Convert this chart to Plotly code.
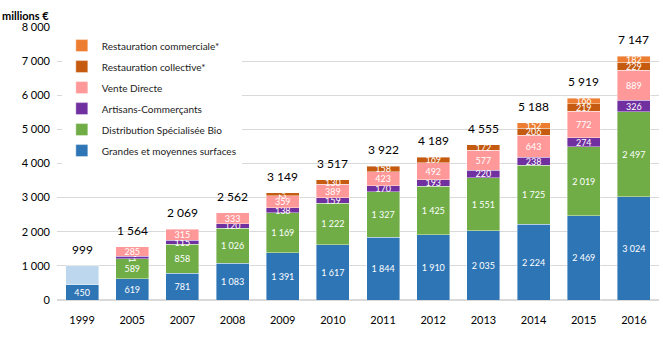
import plotly.graph_objects as go

years = ["1999", "2005", "2007", "2008", "2009", "2010", "2011", "2012", "2013", "2014", "2015", "2016"]
gms = [450, 619, 781, 1083, 1391, 1617, 1844, 1910, 2035, 2224, 2469, 3024]
dsb = [None, 589, 858, 1026, 1169, 1222, 1327, 1425, 1551, 1725, 2019, 2497]
artisans = [None, 71, 115, 120, 138, 159, 170, 193, 220, 238, 274, 326]
vente_directe = [None, 285, 315, 333, 359, 389, 423, 492, 577, 643, 772, 889]
resto_collective = [None, None, None, None, 92, 130, 158, 169, 172, 206, 219, 229]
resto_commerciale = [None, None, None, None, None, None, None, None, None, 152, 166, 182]
autres_1999 = [549, None, None, None, None, None, None, None, None, None, None, None]
totals = [999, 1564, 2069, 2562, 3149, 3517, 3922, 4189, 4555, 5188, 5919, 7147]
y_ticks = [0, 1000, 2000, 3000, 4000, 5000, 6000, 7000, 8000]

def fmt(v):
    return "" if v is None else f"{v:,}".replace(",", " ")

FONT = "Lato"
series = [
    ("Grandes et moyennes surfaces", gms, "#2E75B6"),
    ("Distribution Spécialisée Bio", dsb, "#70AD47"),
    ("Artisans-Commerçants", artisans, "#7030A0"),
    ("Vente Directe", vente_directe, "#FF9999"),
    ("Restauration collective*", resto_collective, "#C55A11"),
    ("Restauration commerciale*", resto_commerciale, "#ED7D31"),
]

fig = go.Figure()
for i, (name, vals, col) in enumerate(series):
    fig.add_trace(go.Bar(
        x=years, y=vals, name=name, marker=dict(color=col, line=dict(color="rgba(255,255,255,0.5)", width=0.8)),
        text=[fmt(v) for v in vals], textposition="inside", insidetextanchor="middle",
        textfont=dict(color="white", size=9, family=FONT), constraintext="none",
        legendgroup=f"g{i}", legendrank=100 - i, hoverinfo="skip",
    ))
    if i == 0:
        fig.add_trace(go.Bar(
            x=years, y=autres_1999, name="autres", showlegend=False,
            marker=dict(color="#BDD7EE", line=dict(color="rgba(255,255,255,0.5)", width=0.8)),
            hoverinfo="skip",
        ))

annotations = [dict(
    x=idx, y=tot, xref="x", yref="y", text=fmt(tot), showarrow=False,
    yanchor="bottom", yshift=7, font=dict(size=12, family=FONT, color="black"),
) for idx, tot in enumerate(totals)]
annotations.append(dict(
    text="<b>millions €</b>", xref="paper", yref="paper", x=-0.094, y=1.01,
    xanchor="left", yanchor="bottom", showarrow=False, font=dict(size=11, family=FONT),
))

fig.update_layout(
    width=663, height=337,
    margin=dict(l=57, r=4, t=27, b=37),
    barmode="stack", bargap=0.34,
    plot_bgcolor="white", paper_bgcolor="white",
    uniformtext=dict(minsize=9, mode="show"),
    font=dict(family=FONT, color="black"),
    legend=dict(
        x=0.008, y=0.985, xanchor="left", yanchor="top",
        bgcolor="white", traceorder="grouped", tracegroupgap=2,
        itemwidth=30, font=dict(size=10, family=FONT, color="#222"),
    ),
    xaxis=dict(type="category", categoryorder="array", categoryarray=years,
               tickfont=dict(size=11), showline=False, ticks="", ticklabelstandoff=12),
    yaxis=dict(
        range=[0, 8000], tickvals=y_ticks, ticktext=[fmt(v) for v in y_ticks],
        gridcolor="#D9D9D9", gridwidth=1, zeroline=True, zerolinecolor="#D9D9D9", zerolinewidth=2,
        tickfont=dict(size=11), ticklabelstandoff=6,
    ),
    annotations=annotations,
)

fig.write_html("out.html")
